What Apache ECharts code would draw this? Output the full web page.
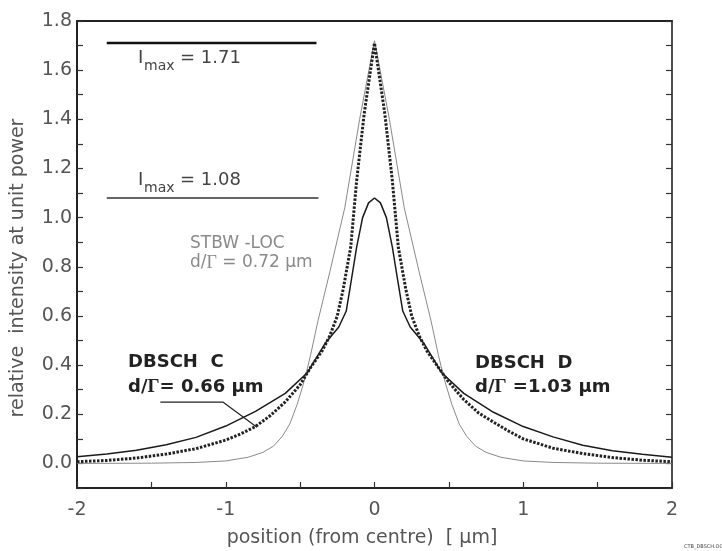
<!DOCTYPE html>
<html>
<head>
<meta charset="utf-8">
<script src="https://cdn.jsdelivr.net/npm/echarts@6/dist/echarts.min.js"></script>
<style>html,body{margin:0;padding:0;background:#fff}#c{width:722px;height:551px}</style>
</head>
<body>
<div id="c"></div>
<script>
// ---- data ----
var xTicks = [-2, -1, 0, 1, 2];
var yTicks = [0.0, 0.2, 0.4, 0.6, 0.8, 1.0, 1.2, 1.4, 1.6, 1.8];

var stbwX = [-2,-1.5,-1.2,-1.0,-0.85,-0.75,-0.68,-0.62,-0.57,-0.52,-0.47,-0.43,-0.38,-0.3,-0.2,-0.1,0,0.1,0.2,0.3,0.38,0.43,0.47,0.52,0.57,0.62,0.68,0.75,0.85,1.0,1.2,1.5,2];
var stbwY = [0,0.001,0.004,0.01,0.025,0.045,0.07,0.11,0.16,0.24,0.34,0.44,0.58,0.78,1.04,1.4,1.72,1.4,1.04,0.78,0.58,0.44,0.34,0.24,0.16,0.11,0.07,0.045,0.025,0.01,0.004,0.001,0];

var dottedX = [-2,-1.8,-1.6,-1.4,-1.2,-1.0,-0.9,-0.8,-0.7,-0.6,-0.5,-0.43,-0.35,-0.3,-0.25,-0.21,-0.16,-0.12,-0.07,0,0.07,0.12,0.16,0.21,0.25,0.3,0.35,0.43,0.5,0.6,0.7,0.8,0.9,1.0,1.2,1.4,1.6,1.8,2];
var dottedY = [0.007,0.012,0.022,0.038,0.06,0.095,0.12,0.15,0.195,0.25,0.32,0.39,0.46,0.52,0.6,0.71,0.88,1.15,1.42,1.71,1.42,1.15,0.88,0.71,0.6,0.52,0.46,0.39,0.33,0.26,0.205,0.168,0.132,0.1,0.062,0.04,0.024,0.013,0.007];

var solidX = [-2,-1.8,-1.6,-1.4,-1.2,-1.0,-0.8,-0.6,-0.45,-0.33,-0.24,-0.19,-0.16,-0.12,-0.08,-0.04,0,0.04,0.08,0.12,0.16,0.19,0.24,0.33,0.45,0.6,0.8,1.0,1.2,1.4,1.6,1.8,2];
var solidY = [0.027,0.038,0.054,0.076,0.106,0.152,0.212,0.285,0.37,0.49,0.555,0.62,0.73,0.88,1.0,1.06,1.08,1.06,1.0,0.88,0.73,0.62,0.555,0.49,0.37,0.285,0.208,0.15,0.108,0.074,0.052,0.037,0.025];

var imaxHighX = [-1.8, -0.39], imaxHighY = [1.71, 1.71];
var imaxLowX = [-1.8, -0.377], imaxLowY = [1.08, 1.08];
var leaderX = [-1.44, -1.017, -0.79], leaderY = [0.249, 0.249, 0.147];

function pairs(xs, ys) { return xs.map(function (x, i) { return [x, ys[i]]; }); }

var chart = echarts.init(document.getElementById('c'), null, {renderer: 'canvas'});
var F = 'DejaVu Sans';
var lab = '#555';

function lineSeries(xs, ys, color, width, type) {
  return {
    type: 'line', data: pairs(xs, ys), symbol: 'none', smooth: false,
    lineStyle: {color: color, width: width, type: type || 'solid'},
    silent: true, animation: false, z: 3
  };
}

chart.setOption({
  backgroundColor: '#fff',
  animation: false,
  grid: {left: 77, right: 50, top: 21, bottom: 63, containLabel: false},
  xAxis: [{
    type: 'value', min: -2, max: 2, interval: 0.5, position: 'bottom',
    axisLine: {show: true, onZero: false, lineStyle: {color: '#222', width: 2}},
    axisTick: {show: true, inside: true, length: 6, lineStyle: {color: '#333', width: 1.2}},
    splitLine: {show: false},
    axisLabel: {
      margin: 13, color: lab, fontFamily: F, fontSize: 19,
      formatter: function (v) { var r = Math.round(v * 2); return (r % 2 === 0 && xTicks.indexOf(r / 2) >= 0) ? String(r / 2) : ''; }
    }
  }, {
    type: 'value', min: -2, max: 2, position: 'top',
    axisLine: {show: true, onZero: false, lineStyle: {color: '#222', width: 2}},
    axisTick: {show: false}, axisLabel: {show: false}, splitLine: {show: false}
  }],
  yAxis: [{
    type: 'value', min: -0.1, max: 1.8, interval: 0.1, position: 'left',
    axisLine: {show: true, onZero: false, lineStyle: {color: '#222', width: 2}},
    axisTick: {show: true, inside: true, length: 6, lineStyle: {color: '#333', width: 1.2}},
    splitLine: {show: false},
    axisLabel: {
      margin: 5, color: lab, fontFamily: F, fontSize: 19,
      formatter: function (v) {
        var r = Math.round(v * 10);
        for (var i = 0; i < yTicks.length; i++) { if (Math.round(yTicks[i] * 10) === r) return yTicks[i].toFixed(1); }
        return '';
      }
    }
  }, {
    type: 'value', min: -0.1, max: 1.8, interval: 0.1, position: 'right',
    axisLine: {show: true, onZero: false, lineStyle: {color: '#222', width: 1.6}},
    axisTick: {show: true, inside: true, length: 6, lineStyle: {color: '#333', width: 1.2}},
    axisLabel: {show: false}, splitLine: {show: false}
  }],
  series: [
    lineSeries(stbwX, stbwY, '#8a8a8a', 1),
    lineSeries(solidX, solidY, '#1a1a1a', 1.5),
    lineSeries(dottedX, dottedY, '#222', 3, [2.5, 1.5]),
    lineSeries(imaxHighX, imaxHighY, '#111', 2.5),
    lineSeries(imaxLowX, imaxLowY, '#333', 1.4),
    lineSeries(leaderX, leaderY, '#222', 1.2)
  ],
  graphic: [
    {type: 'text', x: 138, y: 58, style: {text: 'I', font: '18px "DejaVu Sans"', fill: '#444', textVerticalAlign: 'middle'}},
    {type: 'text', x: 144, y: 66, style: {text: 'max', font: '14px "DejaVu Sans"', fill: '#444', textVerticalAlign: 'middle'}},
    {type: 'text', x: 180, y: 58, style: {text: '= 1.71', font: '18px "DejaVu Sans"', fill: '#444', textVerticalAlign: 'middle'}},

    {type: 'text', x: 138, y: 180, style: {text: 'I', font: '18px "DejaVu Sans"', fill: '#444', textVerticalAlign: 'middle'}},
    {type: 'text', x: 144, y: 188, style: {text: 'max', font: '14px "DejaVu Sans"', fill: '#444', textVerticalAlign: 'middle'}},
    {type: 'text', x: 180, y: 180, style: {text: '= 1.08', font: '18px "DejaVu Sans"', fill: '#444', textVerticalAlign: 'middle'}},

    {type: 'text', x: 190, y: 244, style: {text: 'STBW -LOC', font: '17px "DejaVu Sans"', fill: '#8a8a8a', textVerticalAlign: 'middle'}},
    {type: 'text', x: 190, y: 263, style: {
      text: '{a|d/}{g|Γ}{a| = 0.72 μm}', textVerticalAlign: 'middle',
      rich: {a: {font: '17px "DejaVu Sans"', fill: '#8a8a8a'}, g: {font: '18px "Liberation Serif"', fill: '#8a8a8a'}}
    }},

    {type: 'text', x: 128, y: 362, style: {text: 'DBSCH  C', font: 'bold 18px "DejaVu Sans"', fill: '#222', textVerticalAlign: 'middle'}},
    {type: 'text', x: 128, y: 387, style: {
      text: '{a|d/}{g|Γ}{a|= 0.66 μm}', textVerticalAlign: 'middle',
      rich: {a: {font: 'bold 18px "DejaVu Sans"', fill: '#222'}, g: {font: 'bold 19px "Liberation Serif"', fill: '#222'}}
    }},

    {type: 'text', x: 475, y: 363, style: {text: 'DBSCH  D', font: 'bold 18px "DejaVu Sans"', fill: '#222', textVerticalAlign: 'middle'}},
    {type: 'text', x: 475, y: 387, style: {
      text: '{a|d/}{g|Γ}{a| =1.03 μm}', textVerticalAlign: 'middle',
      rich: {a: {font: 'bold 18px "DejaVu Sans"', fill: '#222'}, g: {font: 'bold 19px "Liberation Serif"', fill: '#222'}}
    }},

    {type: 'text', x: 362, y: 538, style: {text: 'position (from centre)  [ μm]', font: '19px "DejaVu Sans"', fill: lab, textAlign: 'center', textVerticalAlign: 'middle'}},
    {type: 'text', x: 18, y: 268, rotation: Math.PI / 2, style: {text: 'relative  intensity at unit power', font: '19px "DejaVu Sans"', fill: lab, textAlign: 'center', textVerticalAlign: 'middle'}},
    {type: 'text', x: 684, y: 547, style: {text: 'CTB_DBSCH.OC', font: '5px "DejaVu Sans"', fill: '#444', textVerticalAlign: 'middle'}}
  ]
});
</script>
</body>
</html>
